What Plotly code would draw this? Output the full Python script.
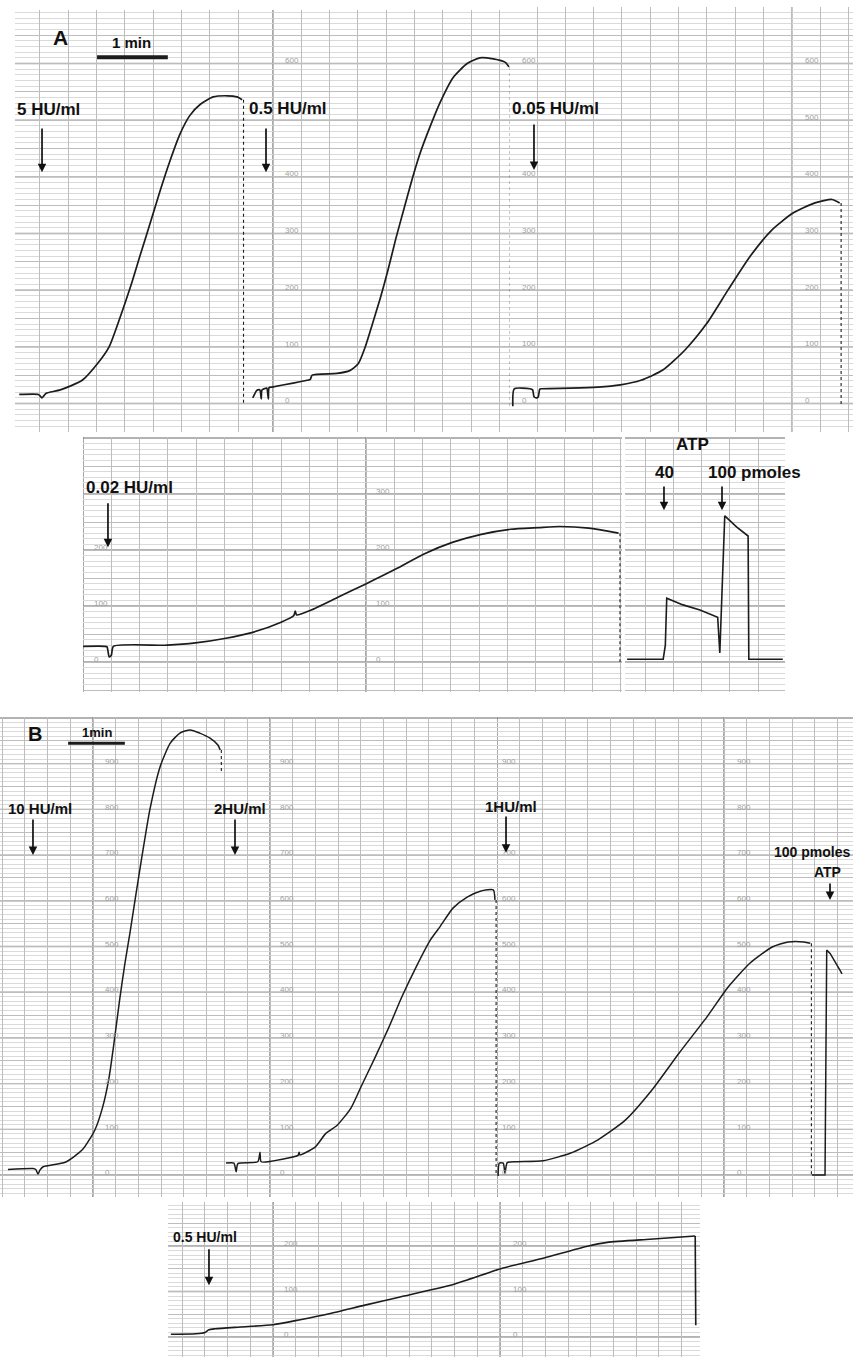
import math
import plotly.graph_objects as go

W, H = 853, 1357

# ---------------- data (time in min from start of each chart strip, signal in chart units) ----------------
# Panel A - 5 HU/ml
a1_t = [0.06, 0.33, 0.35, 0.38, 0.41, 0.44, 0.64, 0.95, 1.17, 1.33, 1.48, 1.63, 1.77, 1.91, 2.05, 2.19, 2.33, 2.47, 2.62, 2.80, 3.00, 3.14, 3.21]
a1_v = [16, 16, 14, 10, 14, 18, 24, 41, 71, 100, 150, 205, 262, 318, 375, 428, 475, 508, 528, 541, 543, 541, 536]
# Panel A - 0.5 HU/ml
a2_t = [0.11, 0.16, 0.18, 0.21, 0.23, 0.24, 0.30, 0.31, 0.33, 0.34, 0.38, 0.68, 0.88, 0.92, 0.95, 1.30, 1.48, 1.60, 1.70, 1.80, 1.91, 2.02, 2.13, 2.25, 2.36, 2.47, 2.62, 2.76, 2.94, 3.14, 3.32, 3.51, 3.68, 3.73]
a2_v = [10, 22, 24, 24, 8, 24, 27, 27, 8, 28, 29, 36, 41, 42, 50, 53, 58, 70, 100, 140, 185, 235, 290, 345, 395, 440, 490, 532, 575, 600, 610, 608, 602, 594]
# Panel A - 0.05 HU/ml
a3_t = [0.04, 0.06, 0.28, 0.32, 0.34, 0.38, 0.40, 0.42, 0.44, 0.86, 1.24, 1.56, 1.85, 2.16, 2.47, 2.78, 3.08, 3.39, 3.70, 4.00, 4.31, 4.55, 4.66]
a3_v = [-5, 26, 26, 24, 12, 10, 12, 25, 26, 27, 29, 33, 41, 59, 94, 141, 200, 259, 306, 336, 354, 360, 354]
# Panel A - 0.02 HU/ml
a4_t = [0.00, 0.31, 0.34, 0.37, 0.40, 0.43, 1.19, 1.59, 2.00, 2.40, 2.80, 2.98, 3.00, 3.02, 3.21, 3.61, 3.99, 4.42, 4.82, 5.23, 5.63, 6.04, 6.44, 6.74, 7.15, 7.57]
a4_v = [28, 28, 27, 9, 12, 28, 30, 34, 42, 53, 71, 83, 91, 84, 92, 116, 139, 166, 193, 214, 228, 237, 240, 242, 239, 230]
# Panel A - ATP standards (40 and 100 pmoles)
a5_t = [0.03, 0.54, 0.57, 0.59, 0.82, 1.06, 1.31, 1.34, 1.41, 1.58, 1.74, 1.75, 2.23]
a5_v = [5, 5, 30, 114, 102, 93, 80, 16, 261, 241, 225, 5, 5]

# Panel B - 10 HU/ml
b1_t = [0.14, 0.58, 0.63, 0.67, 0.70, 0.76, 1.15, 1.45, 1.67, 1.81, 1.92, 2.01, 2.11, 2.20, 2.29, 2.38, 2.50, 2.64, 2.82, 3.00, 3.17, 3.35, 3.52, 3.70, 3.84, 3.88]
b1_v = [12, 14, 12, 2, 10, 18, 28, 55, 98, 149, 212, 290, 385, 462, 530, 602, 696, 799, 893, 945, 967, 974, 967, 956, 941, 930]
# Panel B - 2 HU/ml
b2_t = [0.07, 0.21, 0.25, 0.28, 0.63, 0.67, 0.69, 1.08, 1.34, 1.36, 1.37, 1.64, 1.83, 2.03, 2.27, 2.45, 2.70, 2.94, 3.17, 3.42, 3.67, 3.84, 4.07, 4.32, 4.55, 4.78, 4.81]
b2_v = [26, 26, 7, 25, 29, 50, 29, 35, 43, 50, 44, 61, 91, 109, 146, 193, 258, 323, 390, 455, 514, 543, 584, 608, 621, 624, 602]
# Panel B - 1 HU/ml
b3_t = [0.02, 0.04, 0.11, 0.14, 0.18, 0.34, 0.81, 1.30, 1.78, 2.26, 2.73, 3.21, 3.70, 4.07, 4.46, 4.85, 5.13, 5.41, 5.52]
b3_v = [-2, 26, 26, 4, 27, 29, 31, 48, 77, 120, 186, 267, 346, 411, 464, 499, 510, 510, 507]
# Panel B - ATP standard (100 pmoles)
b4_t = [5.55, 5.78, 5.81, 5.87, 6.04, 6.08]
b4_v = [0, 0, 492, 485, 449, 440]
# Panel B - 0.5 HU/ml
b5_t = [0.05, 0.49, 0.65, 0.72, 0.83, 1.27, 1.85, 2.33, 2.84, 3.47, 4.09, 5.04, 5.89, 6.61, 7.37, 7.74, 8.49, 9.29, 9.30]
b5_v = [6, 7, 10, 16, 18, 22, 27, 38, 51, 70, 88, 116, 151, 173, 199, 208, 215, 222, 26]

# printed scale numbers on the chart paper (those hidden under labels in the original are left out)
a2_scale = [0, 100, 200, 300, 400, 600]
a3_scale_left = [0, 100, 200, 300, 400, 600]
a3_scale_right = [0, 100, 200, 300, 400, 500, 600]
a4_scale_left = [0, 100, 200]
a4_scale_right = [0, 100, 200, 300]
b1_scale = [0, 100, 200, 300, 400, 500, 600, 700, 800, 900]
b2_scale = [0, 100, 200, 300, 400, 500, 600, 700, 800, 900]
b3_scale_left = [0, 100, 200, 300, 400, 500, 600, 700, 900]
b3_scale_right = [0, 100, 200, 300, 400, 500, 600, 700, 800, 900]
b5_scale = [0, 100, 200]

# ---------------- chart-paper strips (layout) ----------------
# name, left px, right px, top px, bottom px, y-pixel of 0, px per unit, px per min, grid tick0, heavy verticals (min)
strips = [
    ("A1", 15, 245, 10, 432, 403.5, 0.5667, 70.75, 0.353, []),
    ("A2", 245, 510, 10, 432, 403.5, 0.5667, 70.75, 0.396, [0.396]),
    ("A3", 510, 853, 7, 432, 403.5, 0.5667, 70.75, 0.382, [3.982]),
    ("A4", 83, 622, 437, 692, 662.0, 0.56, 70.75, 0.0, [0.0, 4.0]),
    ("A5", 625, 785, 437, 692, 662.0, 0.56, 70.75, 0.283, []),
    ("B1", 0, 222, 717, 1197, 1175.0, 0.457, 56.75, 0.039, [1.639]),
    ("B2", 222, 497, 717, 1197, 1175.0, 0.457, 56.75, 0.046, [0.846]),
    ("B3", 497, 853, 717, 1197, 1175.0, 0.457, 56.75, 0.0, [0.0, 4.0]),
    ("B4", 168, 700, 1202, 1357, 1337.0, 0.455, 56.75, 0.25, [1.85, 5.85]),
]

fig = go.Figure()
shapes = []
annotations = []
ax = {}

GRID = "#bdbdbd"
MINOR = "#dadada"
MAJ = "#9a9a9a"
HEAVY = "#8a8a8a"

for i, (name, l, r, t, b, y0, ppu, ppm, tk0, heavy) in enumerate(strips, start=1):
    sfx = "" if i == 1 else str(i)
    xa, ya = "x" + sfx, "y" + sfx
    ax[name] = (xa, ya)
    xr = [0, (r - l) / ppm]
    yr = [(y0 - b) / ppu, (y0 - t) / ppu]
    fig.update_layout(**{
        "xaxis" + sfx: dict(domain=[l / W, r / W], range=xr, anchor=ya, showgrid=True,
                             dtick=0.4, tick0=tk0, gridcolor=GRID, gridwidth=1,
                             showticklabels=False, zeroline=False, showline=False,
                             fixedrange=True),
        "yaxis" + sfx: dict(domain=[1 - b / H, 1 - t / H], range=yr, anchor=xa, showgrid=True,
                             dtick=50, tick0=0, gridcolor=GRID, gridwidth=1,
                             minor=dict(dtick=10, showgrid=True, gridcolor=MINOR, gridwidth=0.6),
                             showticklabels=False, zeroline=False, showline=False,
                             fixedrange=True),
    })
    v = math.ceil(yr[0] / 100) * 100
    while v <= yr[1]:
        shapes.append(dict(type="line", xref=xa, x0=xr[0], x1=xr[1], yref=ya,
                           y0=v, y1=v, layer="below", line=dict(color=MAJ, width=1.3)))
        v += 100
    for hx in heavy:
        shapes.append(dict(type="line", xref=xa, x0=hx, x1=hx, yref=ya,
                           y0=yr[0], y1=yr[1], layer="below", line=dict(color=HEAVY, width=1.5)))

INK = "#1c1c1c"


def trace(name, tt, vv, width=1.7, dash=None, smooth=True):
    xa, ya = ax[name]
    line = dict(color=INK, width=width)
    if dash:
        line["dash"] = dash
    if smooth:
        line["shape"] = "spline"
        line["smoothing"] = 0.6
    fig.add_trace(go.Scatter(x=tt, y=vv, xaxis=xa, yaxis=ya, mode="lines", line=line,
                             showlegend=False, hoverinfo="skip"))


def pen_return(name, tt, vv, to):
    trace(name, [tt[-1] + 0.02, tt[-1] + 0.02], [vv[-1], to], width=1.1, dash="dot", smooth=False)


trace("A1", a1_t, a1_v)
pen_return("A1", a1_t, a1_v, 0)
trace("A2", a2_t, a2_v)
pen_return("A2", a2_t, a2_v, -5)
trace("A3", a3_t, a3_v)
pen_return("A3", a3_t, a3_v, -5)
trace("A4", a4_t, a4_v)
pen_return("A4", a4_t, a4_v, 0)
trace("A5", a5_t, a5_v, width=1.6, smooth=False)
trace("B1", b1_t, b1_v, width=1.5)
pen_return("B1", b1_t, b1_v, 880)
trace("B2", b2_t, b2_v, width=1.5)
pen_return("B2", b2_t, b2_v, 0)
trace("B3", b3_t, b3_v, width=1.5)
pen_return("B3", b3_t, b3_v, 0)
trace("B3", b4_t, b4_v, width=1.5, smooth=False)
# slow recording: smooth rise, then the straight pen drop at the end
trace("B4", b5_t[:-1], b5_v[:-1], width=1.6)
trace("B4", b5_t[-2:], b5_v[-2:], width=1.6, smooth=False)

# 1-min scale bars
scale_len = 1.0
trace("A1", [1.16, 1.16 + scale_len], [611, 611], width=4, smooth=False)
trace("B1", [1.20, 1.20 + scale_len], [945, 945], width=3, smooth=False)


# printed paper scale numbers
def scale_labels(name, tpos, values):
    xa, ya = ax[name]
    for val in values:
        annotations.append(dict(x=tpos, y=val + 5, xref=xa, yref=ya, text=str(val), showarrow=False,
                                xanchor="left", yanchor="middle",
                                font=dict(size=8, color="#a0a0a0", family="Liberation Sans, Arial")))


scale_labels("A2", 0.537, a2_scale)
scale_labels("A3", 0.141, a3_scale_left)
scale_labels("A3", 4.141, a3_scale_right)
scale_labels("A4", 0.127, a4_scale_left)
scale_labels("A4", 4.113, a4_scale_right)
scale_labels("B1", 1.815, b1_scale)
scale_labels("B2", 0.987, b2_scale)
scale_labels("B3", 0.053, b3_scale_left)
scale_labels("B3", 4.194, b3_scale_right)
scale_labels("B4", 2.009, b5_scale)
scale_labels("B4", 6.044, b5_scale)

FONT = "Liberation Sans, Arial, sans-serif"


def label(name, tx, vy, text, size, anchor="center"):
    xa, ya = ax[name]
    annotations.append(dict(x=tx, y=vy, xref=xa, yref=ya, text="<b>" + text + "</b>", showarrow=False,
                            xanchor=anchor, yanchor="middle",
                            font=dict(size=size, color="#111111", family=FONT)))


def arrow(name, tx, v_tail, v_tip):
    xa, ya = ax[name]
    annotations.append(dict(x=tx, y=v_tip, ax=tx, ay=v_tail, xref=xa, yref=ya, axref=xa, ayref=ya,
                            text="", showarrow=True, arrowhead=2, arrowsize=1.0, arrowwidth=1.7,
                            arrowcolor="#111111", standoff=0))


# Panel A labels
label("A1", 0.65, 645, "A", 21)
label("A1", 1.64, 637, "1 min", 15)
label("A1", 0.48, 518, "5 HU/ml", 17)
arrow("A1", 0.382, 488, 408)
label("A2", 0.594, 521, "0.5 HU/ml", 17)
arrow("A2", 0.297, 488, 408)
label("A3", 0.65, 521, "0.05 HU/ml", 17)
arrow("A3", 0.339, 495, 412)
label("A4", 0.664, 312, "0.02 HU/ml", 17)
arrow("A4", 0.353, 286, 205)
label("A5", 0.947, 388, "ATP", 17)
label("A5", 0.565, 339, "40", 17)
label("A5", 1.837, 339, "100 pmoles", 17)
arrow("A5", 0.551, 316, 271)
arrow("A5", 1.371, 316, 271)

# Panel B labels
label("B1", 0.617, 965, "B", 20)
label("B1", 1.709, 968, "1min", 13)
label("B1", 0.705, 803, "10 HU/ml", 15)
arrow("B1", 0.581, 781, 700)
label("B2", 0.317, 803, "2HU/ml", 15)
arrow("B2", 0.229, 781, 700)
label("B3", 0.247, 807, "1HU/ml", 15)
arrow("B3", 0.159, 788, 705)
label("B3", 6.25, 707, "100 pmoles", 14, anchor="right")
label("B3", 6.10, 663, "ATP", 14, anchor="right")
arrow("B3", 5.868, 641, 602)
label("B4", 0.652, 220, "0.5 HU/ml", 14)
arrow("B4", 0.722, 196, 114)

fig.update_layout(width=W, height=H, margin=dict(l=0, r=0, t=0, b=0),
                  paper_bgcolor="#ffffff", plot_bgcolor="#ffffff",
                  shapes=shapes, annotations=annotations, showlegend=False)

fig.write_html("out.html", config={"displayModeBar": False},
               post_script="document.body.style.margin='0px';document.body.style.overflow='hidden';")
